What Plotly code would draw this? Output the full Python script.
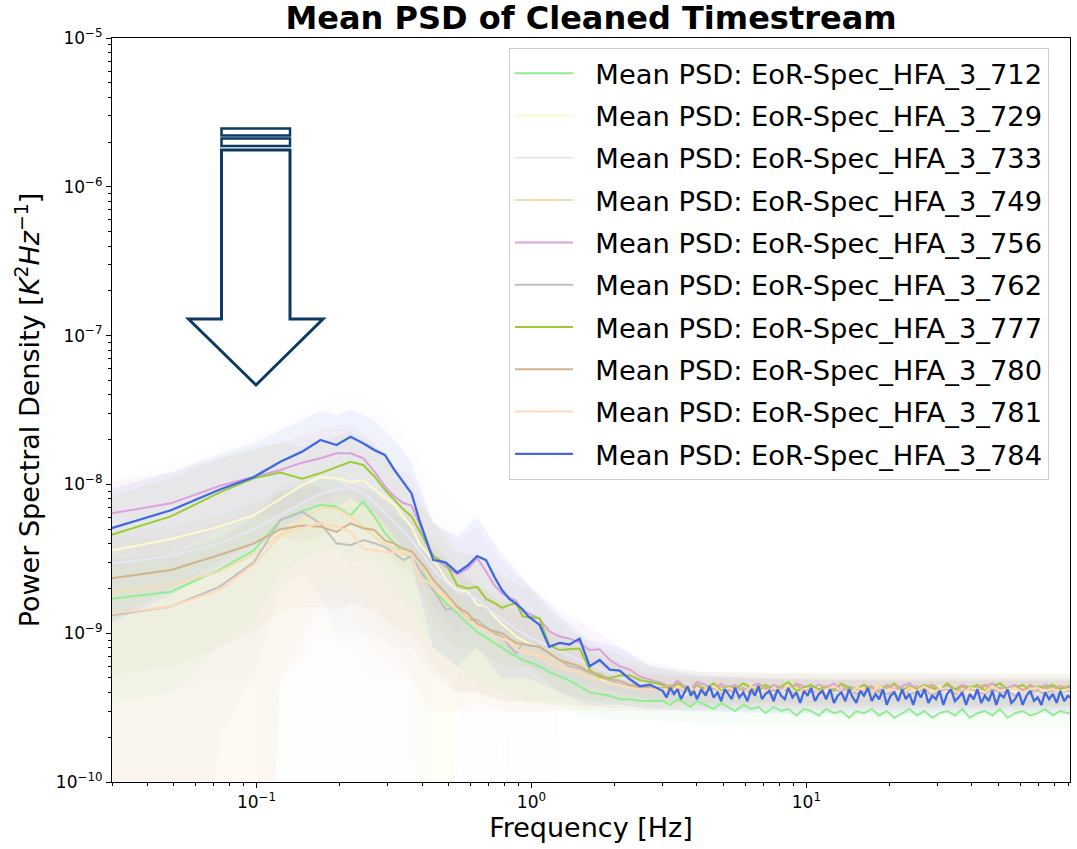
import plotly.graph_objects as go

UNIT = 1e-10      # every PSD value below is in units of 1e-10 K^2/Hz
FLOOR = 1e-13     # stand-in for non-positive (mean - std) values on the log axis

# ---------------- frequency grids [Hz] ----------------
freq_lo = [0.0244, 0.0488, 0.0732, 0.0977, 0.1221, 0.1465, 0.1709, 0.1953, 0.2197, 0.2441,
           0.2686, 0.2930, 0.3174, 0.3418, 0.3662, 0.3906, 0.4150, 0.4395, 0.4639, 0.4883,
           0.5371, 0.5859, 0.6348, 0.6836, 0.7324, 0.7813, 0.8301, 0.8789, 0.9277, 0.9766,
           1.07, 1.16, 1.265, 1.376, 1.497, 1.628, 1.771, 1.926, 2.095, 2.28,
           2.48, 2.70]
freq_hi = [3.0, 3.2, 3.4, 3.6, 3.8, 4.0, 4.3, 4.6, 4.9, 5.2,
           5.5, 5.9, 6.3, 6.7, 7.1, 7.6, 8.1, 8.6, 9.2, 9.8,
           10.4, 11.1, 11.8, 12.6, 13.4, 14.3, 15.2, 16.2, 17.3, 18.4,
           19.6, 20.9, 22.3, 23.7, 25.3, 26.9, 28.7, 30.5, 32.5, 34.7,
           36.9, 39.3, 41.9, 44.6, 47.5, 50.6, 53.9, 57.4, 61.2, 65.2,
           69.4, 73.9, 78.8, 83.9, 89.4, 91.5]
freq_hi_fine = [3.0, 3.1, 3.2, 3.3, 3.4, 3.5, 3.6, 3.7, 3.8, 3.9,
                4.0, 4.15, 4.3, 4.45, 4.6, 4.75, 4.9, 5.05, 5.2, 5.35,
                5.5, 5.7, 5.9, 6.1, 6.3, 6.5, 6.7, 6.9, 7.1, 7.35,
                7.6, 7.85, 8.1, 8.35, 8.6, 8.9, 9.2, 9.5, 9.8, 10.1,
                10.4, 10.75, 11.1, 11.45, 11.8, 12.2, 12.6, 13.0, 13.4, 13.85,
                14.3, 14.75, 15.2, 15.7, 16.2, 16.75, 17.3, 17.85, 18.4, 19.0,
                19.6, 20.25, 20.9, 21.6, 22.3, 23.0, 23.7, 24.5, 25.3, 26.1,
                26.9, 27.8, 28.7, 29.6, 30.5, 31.5, 32.5, 33.6, 34.7, 35.8,
                36.9, 38.1, 39.3, 40.6, 41.9, 43.25, 44.6, 46.05, 47.5, 49.05,
                50.6, 52.25, 53.9, 55.65, 57.4, 59.3, 61.2, 63.2, 65.2, 67.3,
                69.4, 71.65, 73.9, 76.35, 78.8, 81.35, 83.9, 86.65, 89.4, 91.5]
freq_band = [0.0244, 0.0488, 0.0732, 0.0977, 0.1221, 0.1465, 0.1709, 0.1953, 0.2197, 0.2686,
             0.3174, 0.3662, 0.4395, 0.5371, 0.6348, 0.7813, 0.9766, 1.265, 1.628, 2.095,
             2.70, 4.0, 8.0, 20.0, 50.0, 91.5]

# ---------------- detectors ----------------
detectors = ["712", "729", "733", "749", "756", "762", "777", "780", "781", "784"]
colors = ["#90EE90", "#FFFACD", "#E6E6FA", "#F5DEB3", "#DDA0DD",
          "#C0C0C0", "#9ACD32", "#D2B48C", "#FFDAB9", "#4169E1"]

# ---------------- mean PSD, low-frequency part (freq_lo) ----------------
lo_712 = [16.3, 19, 26.6, 36, 57.6, 66, 72.8, 70.8, 62, 76.5,
          60.7, 47, 40.2, 34.4, 32.7, 28, 24, 19.5, 17.5, 16,
          13.6, 11.6, 10.2, 9.3, 8.6, 8.0, 7.4, 7.0, 6.6, 6.4,
          6.0, 5.5, 5.1, 4.8, 4.4, 4.0, 3.9, 3.8, 3.6, 3.6,
          3.5, 3.5]
lo_729 = [33.4, 43, 52, 62, 80, 99, 112, 110, 104, 107,
          92, 81, 73, 60, 52, 40, 35, 31, 27, 23,
          19.5, 19, 15.5, 15.1, 13, 11.5, 10.5, 9.5, 9, 8.5,
          8.1, 7.5, 6.6, 6.3, 6.0, 5.6, 5.0, 4.6, 4.5, 4.4,
          4.3, 4.2]
lo_733 = [28, 33, 40, 50, 62, 75, 86, 92, 95, 88,
          75, 64, 56, 48, 42, 36, 31, 27, 24, 22,
          19, 18, 17, 15, 13.5, 12.5, 11.5, 10.6, 10, 9.4,
          8.8, 8.2, 7.6, 7.1, 6.6, 6.2, 5.8, 5.4, 5.1, 4.8,
          4.6, 4.5]
lo_749 = [18, 21, 26, 34, 46, 58, 70, 69, 61, 52,
          44, 40, 37, 35, 33, 28, 25, 21, 19, 17.5,
          15, 13, 12, 11, 10, 9.6, 9.0, 8.3, 7.9, 7.6,
          7.2, 6.8, 6.3, 6.0, 5.7, 5.3, 5.0, 4.8, 4.6, 4.5,
          4.4, 4.3]
lo_756 = [60, 74.6, 97.6, 112, 125, 140, 150, 162, 162, 150,
          122, 97, 83, 75, 72, 55, 40, 33, 30, 28,
          25, 27, 32, 26, 21, 18.5, 17.5, 16.5, 14, 13.6,
          12.5, 10.3, 9.5, 9.2, 8.6, 7.7, 7.8, 6.6, 6.0, 5.7,
          5.1, 4.85]
lo_762 = [12.5, 15.1, 20.5, 30, 57.6, 65.5, 54.7, 40.2, 39, 42.3,
          40.2, 38, 34.4, 31, 33, 27, 22.5, 19.5, 16.5, 14.3,
          15.1, 12.3, 12.3, 11.1, 10, 9.5, 8.2, 7.3, 8.55, 8.3,
          8.1, 7.3, 6.6, 6.0, 5.8, 5.4, 5.1, 4.8, 4.6, 4.4,
          4.3, 4.2]
lo_777 = [41, 61, 88, 110, 120, 109, 119, 130, 142, 135,
          113, 92, 78, 68, 61, 49, 40, 33, 31, 29.5,
          21, 20, 20.5, 17, 16, 14.8, 15.5, 15.9, 13, 12.9,
          12.6, 8.3, 7.7, 7.8, 7.9, 5.7, 5.1, 5.0, 5.2, 5.2,
          4.85, 4.7]
lo_780 = [22.2, 26.6, 33.5, 40, 50, 53, 52, 48, 54.7, 50.7,
          49.4, 42, 40, 37, 35.5, 31, 27, 22.8, 20.5, 18.5,
          15.1, 13.6, 11.6, 10.7, 10.3, 10.0, 9.2, 8.6, 8.5, 8.3,
          8.1, 7.4, 6.6, 6.3, 6.0, 5.5, 5.3, 4.9, 4.8, 4.5,
          4.4, 4.3]
lo_781 = [13, 15.1, 19.5, 29, 45, 51, 55, 52, 48, 37,
          36, 35, 35, 34.5, 34, 23, 22.5, 20.5, 18.5, 16.7,
          14.3, 12.3, 11.2, 10.5, 9.5, 9.2, 8.8, 7.8, 7.5, 7.3,
          7.0, 6.2, 5.9, 5.6, 5.4, 5.0, 4.8, 4.6, 4.5, 4.3,
          4.2, 4.2]
lo_784 = [45.6, 67, 92, 112, 142, 166, 199, 184, 209, 189,
          170, 158, 125, 104, 87, 58, 42, 31, 30.5, 29.8,
          25.5, 28.5, 33, 31, 24, 19.5, 17, 15.8, 14.5, 12.9,
          11.4, 8.1, 8.6, 8.4, 9.2, 6.0, 6.6, 5.7, 5.6, 4.9,
          4.4, 4.5]

# ---------------- mean PSD, white-noise part (freq_hi / freq_hi_fine) ----------------
hi_712 = [3.5, 3.3, 3.6, 3.4, 3.2, 3.5, 3.3, 3.1, 3.4, 3.2,
          3.0, 3.3, 3.1, 3.2, 2.9, 3.2, 3.0, 3.1, 2.8, 3.1,
          3.0, 2.8, 3.1, 2.9, 3.0, 2.7, 3.0, 2.9, 3.1, 2.8,
          3.0, 2.7, 2.9, 3.1, 2.8, 3.0, 2.7, 2.9, 3.0, 2.8,
          3.1, 2.7, 2.9, 3.0, 2.8, 3.1, 2.7, 2.9, 3.0, 2.8,
          2.9, 3.1, 2.8, 3.0, 2.9, 2.9]
hi_729 = [4.2, 4.5, 4.0, 4.3, 4.1, 4.4, 3.9, 4.2, 4.4, 4.0,
          4.3, 4.1, 4.5, 3.9, 4.2, 4.0, 4.4, 4.1, 3.9, 4.3,
          4.0, 4.4, 4.1, 4.2, 3.9, 4.3, 4.0, 4.5, 4.1, 4.2,
          3.9, 4.4, 4.0, 4.2, 4.3, 3.9, 4.1, 4.4, 4.0, 4.2,
          4.3, 3.9, 4.2, 4.4, 4.0, 4.1, 4.3, 4.0, 4.2, 4.4,
          4.0, 4.2, 4.3, 4.1, 4.2, 4.2]
hi_733 = [4.3, 4.0, 4.2, 3.8, 4.1, 4.3, 3.9, 4.0, 4.2, 3.8,
          4.1, 3.9, 4.2, 4.0, 3.8, 4.1, 4.2, 3.9, 4.0, 3.8,
          4.2, 4.0, 3.9, 4.1, 3.8, 4.2, 4.0, 3.9, 4.1, 4.0,
          3.8, 4.2, 3.9, 4.0, 4.1, 3.8, 4.0, 4.2, 3.9, 4.0,
          4.1, 3.8, 4.0, 4.2, 3.9, 4.0, 4.1, 3.8, 4.0, 4.1,
          3.9, 4.0, 4.2, 3.9, 4.0, 4.0]
hi_749 = [4.3, 4.1, 4.5, 4.2, 4.4, 4.0, 4.3, 4.5, 4.1, 4.3,
          4.2, 4.5, 4.0, 4.3, 4.4, 4.1, 4.3, 4.5, 4.2, 4.0,
          4.4, 4.2, 4.5, 4.1, 4.3, 4.4, 4.0, 4.3, 4.2, 4.5,
          4.1, 4.3, 4.4, 4.2, 4.0, 4.4, 4.3, 4.1, 4.5, 4.2,
          4.3, 4.0, 4.4, 4.2, 4.5, 4.1, 4.3, 4.4, 4.2, 4.3,
          4.1, 4.4, 4.2, 4.3, 4.4, 4.4]
hi_756 = [4.6, 4.3, 4.8, 4.4, 4.2, 4.7, 4.5, 4.2, 4.6, 4.3,
          4.5, 4.1, 4.4, 4.6, 4.2, 4.5, 4.3, 4.1, 4.6, 4.4,
          4.2, 4.5, 4.3, 4.6, 4.1, 4.4, 4.2, 4.5, 4.3, 4.1,
          4.5, 4.2, 4.4, 4.6, 4.2, 4.3, 4.5, 4.1, 4.4, 4.2,
          4.5, 4.3, 4.1, 4.4, 4.6, 4.2, 4.3, 4.5, 4.1, 4.4,
          4.2, 4.5, 4.3, 4.4, 4.2, 4.2]
hi_762 = [4.2, 3.9, 4.3, 4.0, 4.2, 3.8, 4.1, 4.3, 3.9, 4.1,
          4.0, 4.3, 3.9, 4.2, 4.0, 3.8, 4.2, 4.1, 3.9, 4.3,
          4.0, 4.1, 3.8, 4.2, 4.0, 4.3, 3.9, 4.1, 4.0, 4.2,
          3.9, 4.1, 4.3, 3.9, 4.0, 4.2, 3.8, 4.1, 4.2, 3.9,
          4.1, 4.3, 4.0, 3.9, 4.2, 4.0, 4.1, 3.8, 4.2, 4.0,
          4.1, 3.9, 4.2, 4.0, 4.1, 4.1]
hi_777 = [4.5, 4.2, 4.6, 4.3, 4.0, 4.5, 4.2, 4.6, 4.1, 4.4,
          4.2, 4.6, 4.3, 4.1, 4.5, 4.2, 4.4, 4.7, 4.1, 4.3,
          4.5, 4.2, 4.4, 4.1, 4.6, 4.3, 4.2, 4.5, 4.0, 4.4,
          4.3, 4.6, 4.1, 4.4, 4.2, 4.5, 4.3, 4.1, 4.6, 4.2,
          4.4, 4.3, 4.5, 4.1, 4.4, 4.6, 4.2, 4.3, 4.5, 4.1,
          4.4, 4.3, 4.5, 4.2, 4.4, 4.4]
hi_780 = [4.3, 4.5, 4.1, 4.4, 4.2, 4.5, 4.0, 4.3, 4.4, 4.1,
          4.4, 4.2, 4.0, 4.5, 4.3, 4.1, 4.4, 4.2, 4.5, 4.1,
          4.3, 4.0, 4.4, 4.2, 4.5, 4.1, 4.3, 4.2, 4.4, 4.0,
          4.3, 4.5, 4.1, 4.2, 4.4, 4.1, 4.5, 4.2, 4.3, 4.0,
          4.4, 4.2, 4.3, 4.5, 4.1, 4.3, 4.2, 4.4, 4.1, 4.5,
          4.2, 4.3, 4.1, 4.4, 4.3, 4.3]
hi_781 = [4.2, 4.0, 4.4, 4.1, 4.3, 3.9, 4.2, 4.4, 4.0, 4.3,
          4.1, 3.9, 4.4, 4.2, 4.0, 4.3, 4.1, 4.4, 3.9, 4.2,
          4.3, 4.0, 4.2, 4.4, 4.1, 3.9, 4.3, 4.2, 4.0, 4.4,
          4.1, 4.2, 3.9, 4.3, 4.1, 4.4, 4.0, 4.2, 4.3, 4.1,
          3.9, 4.3, 4.2, 4.0, 4.4, 4.1, 4.2, 4.3, 4.0, 4.2,
          4.3, 4.1, 4.2, 4.0, 4.2, 4.2]
hi_784 = [4.1, 3.7, 4.3, 3.9, 4.2, 3.6, 4.0, 4.4, 3.8, 4.1,
          3.6, 4.2, 3.8, 4.4, 3.7, 4.0, 3.5, 4.2, 3.9, 3.6,
          4.3, 3.7, 4.0, 3.5, 4.2, 3.8, 4.4, 3.6, 3.9, 4.1,
          3.5, 4.2, 3.8, 3.6, 4.3, 3.7, 4.0, 3.4, 4.1, 3.8,
          4.3, 3.5, 3.9, 4.1, 3.6, 4.2, 3.4, 3.8, 4.0, 3.5,
          4.2, 3.7, 3.4, 4.1, 3.8, 4.3, 3.5, 3.9, 3.6, 4.2,
          3.3, 3.8, 4.0, 3.5, 4.2, 3.6, 3.9, 3.3, 4.1, 3.7,
          4.2, 3.4, 3.8, 3.6, 4.1, 3.3, 3.9, 4.2, 3.5, 3.7,
          4.0, 3.3, 3.9, 3.6, 4.2, 3.4, 3.8, 3.5, 4.1, 3.3,
          3.9, 3.7, 4.2, 3.4, 3.6, 4.0, 3.3, 3.8, 4.1, 3.5,
          3.7, 3.3, 4.0, 3.6, 3.9, 3.4, 4.1, 3.5, 3.8, 3.7]

# ---------------- mean +/- std envelopes on freq_band ----------------
up_712 = [30, 34, 45, 60, 90, 100, 110, 105, 95, 90, 65, 52, 32, 22, 16, 12, 9.5, 7.2, 5.5, 4.6, 4.3, 3.9, 3.7, 3.6, 3.6, 3.6]
lw_712 = [3, 4, 8, 12, 25, 32, 36, 37, 30, 32, 18, 15, 8, 6, 4.5, 4, 3.5, 3.2, 2.7, 2.6, 2.6, 2.5, 2.4, 2.4, 2.3, 2.3]
up_729 = [110, 130, 150, 170, 200, 230, 250, 250, 240, 210, 170, 120, 70, 40, 30, 20, 14, 10, 8, 6, 5.3, 5.0, 4.9, 4.9, 4.8, 4.8]
lw_729 = [0, 0, 0, 0, 0, 8, 20, 25, 20, 15, 10, 5, 0, 3, 4, 3, 3, 3, 3, 3, 3.1, 3.2, 3.2, 3.2, 3.2, 3.2]
up_733 = [105, 140, 180, 210, 250, 300, 360, 410, 420, 370, 280, 190, 110, 70, 60, 35, 22, 15, 11, 8, 6.5, 5.5, 5.3, 5.2, 5.1, 5.1]
lw_733 = [4, 4, 5, 5, 0, 0, 0, 0, 0, 0, 0, 0, 5, 6, 0, 5, 0, 3.5, 3, 2.6, 2.8, 2.8, 2.8, 2.8, 2.8, 2.8]
up_749 = [40, 45, 55, 70, 90, 110, 130, 125, 110, 85, 70, 60, 38, 27, 21, 16, 12, 9, 7, 5.8, 5.2, 5.0, 4.9, 4.9, 4.9, 4.9]
lw_749 = [0, 0, 0, 0, 5, 10, 15, 18, 14, 8, 6, 5, 0, 3, 3.5, 3, 3, 3, 3, 3, 3, 3.1, 3.1, 3.1, 3.1, 3.1]
up_756 = [100, 120, 150, 170, 190, 210, 230, 250, 250, 190, 130, 115, 55, 42, 52, 30, 21, 14, 11, 8, 6.3, 5.5, 5.4, 5.4, 5.3, 5.3]
lw_756 = [25, 35, 50, 60, 65, 75, 80, 85, 85, 60, 40, 35, 15, 10, 14, 8, 6, 5, 4.4, 4, 3.6, 3.3, 3.3, 3.2, 3.2, 3.2]
up_762 = [28, 34, 42, 60, 100, 110, 95, 72, 70, 70, 60, 58, 35, 26, 21, 16, 13, 9.5, 7.5, 6, 5.3, 5, 4.9, 4.9, 4.9, 4.9]
lw_762 = [0, 0, 2, 5, 20, 25, 18, 10, 10, 10, 8, 8, 5, 4, 4, 3.5, 3.5, 3.5, 3.2, 3.1, 3, 3, 3, 3, 3, 3]
up_777 = [75, 110, 150, 180, 190, 180, 195, 210, 225, 180, 125, 95, 55, 35, 33, 24, 20, 12, 8.5, 7.2, 6, 5.5, 5.4, 5.4, 5.4, 5.4]
lw_777 = [10, 20, 30, 40, 45, 40, 45, 50, 55, 45, 30, 25, 12, 8, 8, 6, 6, 4, 3.5, 3.5, 3.5, 3.4, 3.4, 3.4, 3.3, 3.3]
up_780 = [45, 52, 62, 75, 90, 95, 95, 90, 100, 90, 72, 65, 42, 28, 21, 18, 14, 10, 8, 6.4, 5.5, 5.2, 5.1, 5.0, 5.0, 5.0]
lw_780 = [5, 6, 8, 10, 14, 15, 15, 14, 16, 14, 11, 10, 6, 4, 4, 3.5, 3.4, 3.3, 3.2, 3.2, 3.2, 3.2, 3.2, 3.2, 3.2, 3.2]
up_781 = [30, 34, 42, 58, 85, 95, 100, 95, 88, 68, 65, 62, 38, 26, 20, 16, 12, 9, 7.2, 6, 5.3, 5.1, 5.0, 5.0, 5.0, 5.0]
lw_781 = [0, 0, 0, 0, 5, 7, 10, 9, 8, 5, 5, 5, 3, 3, 3, 3, 3, 3, 3, 3, 3, 3.1, 3.1, 3.1, 3.1, 3.1]
up_784 = [85, 120, 160, 190, 230, 270, 310, 290, 320, 270, 200, 140, 55, 45, 60, 34, 21, 13, 9, 8, 6, 5.2, 4.9, 4.8, 4.8, 4.8]
lw_784 = [10, 18, 28, 35, 50, 60, 75, 70, 80, 65, 45, 30, 8, 6, 8, 5, 5, 4, 3.3, 3.3, 3.1, 3.0, 2.9, 2.9, 2.9, 2.9]

lo_vals = [lo_712, lo_729, lo_733, lo_749, lo_756, lo_762, lo_777, lo_780, lo_781, lo_784]
hi_vals = [hi_712, hi_729, hi_733, hi_749, hi_756, hi_762, hi_777, hi_780, hi_781, hi_784]
hi_freqs = [freq_hi] * 9 + [freq_hi_fine]
up_vals = [up_712, up_729, up_733, up_749, up_756, up_762, up_777, up_780, up_781, up_784]
lw_vals = [lw_712, lw_729, lw_733, lw_749, lw_756, lw_762, lw_777, lw_780, lw_781, lw_784]

BAND_ALPHA = 0.07
FONT = "DejaVu Sans"


def rgba(hex_color, a):
    h = hex_color.lstrip("#")
    r, g, b = int(h[0:2], 16), int(h[2:4], 16), int(h[4:6], 16)
    return f"rgba({r},{g},{b},{a})"


fig = go.Figure()

# shaded +/- std bands
for det, col, up, lw in zip(detectors, colors, up_vals, lw_vals):
    upper = [u * UNIT for u in up]
    lower = [(l * UNIT if l > 0 else FLOOR) for l in lw]
    fig.add_trace(go.Scatter(
        x=freq_band + freq_band[::-1],
        y=upper + lower[::-1],
        fill="toself", fillcolor=rgba(col, BAND_ALPHA),
        line=dict(width=0), mode="lines",
        hoverinfo="skip", showlegend=False,
    ))

# mean PSD lines
for det, col, lo, hi, fhi in zip(detectors, colors, lo_vals, hi_vals, hi_freqs):
    fig.add_trace(go.Scatter(
        x=freq_lo + fhi,
        y=[v * UNIT for v in lo + hi],
        mode="lines", line=dict(color=col, width=2.3 if det == "784" else 2),
        name="\u2007Mean PSD: EoR-Spec_HFA_3_" + det,
        legendgroup=det,
    ))

# ---------------- axes ----------------
L, R, T, B = 112, 1070, 38, 782
W, H = 1077, 849

y_major = [1e-10, 1e-9, 1e-8, 1e-7, 1e-6, 1e-5]
y_text = ["10<sup>−10</sup>", "10<sup>−9</sup>", "10<sup>−8</sup>",
          "10<sup>−7</sup>", "10<sup>−6</sup>", "10<sup>−5</sup>"]
y_minor = [m * 10.0 ** e for e in range(-10, -5) for m in range(2, 10)]
x_major = [0.1, 1, 10]
x_text = ["10<sup>−1</sup>", "10<sup>0</sup>", "10<sup>1</sup>"]
x_minor = [m * 10.0 ** e for e in range(-2, 2) for m in range(2, 10)]
x_minor = [v for v in x_minor if 0.0298 <= v <= 91]

axis_common = dict(
    type="log", showgrid=False, zeroline=False,
    showline=True, linecolor="black", linewidth=1, mirror=True,
    ticks="outside", ticklen=5, tickwidth=1, tickcolor="black",
    tickfont=dict(family=FONT, size=17, color="black"),
)

fig.update_xaxes(
    **axis_common,
    range=[-1.5258, 1.959],
    tickmode="array", tickvals=x_major, ticktext=x_text,
    minor=dict(tickmode="array", tickvals=x_minor, ticks="outside", ticklen=3, tickcolor="black"),
    title=dict(text="Frequency [Hz]", font=dict(family=FONT, size=27, color="black"), standoff=6),
)
fig.update_yaxes(
    **axis_common,
    range=[-10, -5],
    tickmode="array", tickvals=y_major, ticktext=y_text,
    minor=dict(tickmode="array", tickvals=y_minor, ticks="outside", ticklen=3, tickcolor="black"),
    title=dict(text="Power Spectral Density [<i>K</i><sup>2</sup><i>Hz</i><sup>−1</sup>]",
               font=dict(family=FONT, size=27, color="black"), standoff=8),
)


# ---------------- arrow annotation (pixel layout -> paper coords) ----------------
def P(px, py):
    return (px - L) / (R - L), (B - py) / (B - T)


pts = [(221.5, 150), (290, 150), (290, 319), (323, 319), (256, 385), (188.5, 319), (221.5, 319)]
path = "M " + " L ".join(f"{P(x, y)[0]:.5f},{P(x, y)[1]:.5f}" for x, y in pts) + " Z"
NAVY = "#0d3a63"
shapes = [
    dict(type="path", path=path, xref="paper", yref="paper",
         line=dict(color=NAVY, width=3), fillcolor="white", layer="above"),
]
for (ya, yb) in [(128.5, 135.5), (138.5, 146)]:
    x0, y0 = P(221.5, yb)
    x1, y1 = P(290, ya)
    shapes.append(dict(type="rect", xref="paper", yref="paper", x0=x0, y0=y0, x1=x1, y1=y1,
                       line=dict(color=NAVY, width=2.5), fillcolor="white", layer="above"))

fig.update_layout(
    width=W, height=H,
    margin=dict(l=L, r=W - R, t=T, b=H - B),
    paper_bgcolor="white", plot_bgcolor="white",
    font=dict(family=FONT, color="black"),
    title=dict(text="<b>Mean PSD of Cleaned Timestream</b>",
               font=dict(family=FONT, size=32, color="black"),
               x=0.5, xref="paper", xanchor="center",
               y=1 - 18 / H, yref="container", yanchor="middle"),
    legend=dict(
        x=(509 - L) / (R - L), y=(B - 48) / (B - T), xanchor="left", yanchor="top",
        font=dict(family=FONT, size=27.3, color="black"),
        bgcolor="rgba(255,255,255,0.8)", bordercolor="#cccccc", borderwidth=1,
        itemwidth=58, traceorder="grouped", tracegroupgap=3.8,
    ),
    shapes=shapes,
    showlegend=True,
)

fig.write_html("out.html")
